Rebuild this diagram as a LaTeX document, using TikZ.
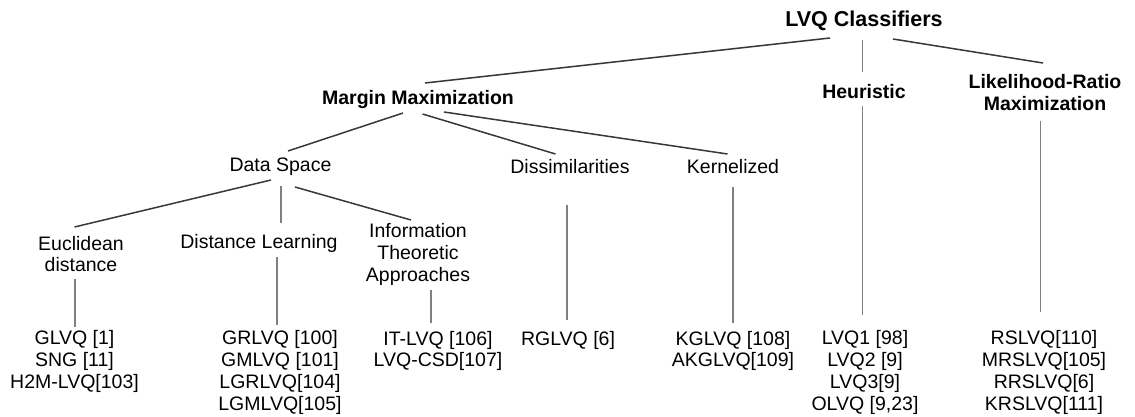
\documentclass[tikz,border=0pt]{standalone}
\usepackage{fontspec}
\setmainfont{Liberation Sans}
\begin{document}
\begin{tikzpicture}[x=1pt,y=-1pt,
  lbl/.style={font=\fontsize{19.5}{21.7}\selectfont, align=center, inner sep=0pt, anchor=center},
  cat/.style={lbl, font=\fontsize{19.5}{21.7}\selectfont\bfseries},
  rootlbl/.style={lbl, font=\fontsize{21.5}{24}\selectfont\bfseries},
  sedge/.style={draw=black!78, line width=1.5pt},
  vedge/.style={draw=black!50, line width=1.8pt}]
\useasboundingbox (0,0) rectangle (1135,417);
% nodes
\node[rootlbl] (root) at (864,21) {LVQ Classifiers};
\node[cat] (mm) at (418,100) {Margin Maximization};
\node[cat] (heur) at (864,92) {Heuristic};
\node[cat] (lr) at (1045,92.5) {Likelihood-Ratio\\Maximization};
\node[lbl] (ds) at (280.5,167) {Data Space};
\node[lbl] (dis) at (570,167) {Dissimilarities};
\node[lbl] (ker) at (733,167) {Kernelized};
\node[lbl] (euc) at (81,254) {Euclidean\\distance};
\node[lbl] (dl) at (259,243) {Distance Learning};
\node[lbl] (it) at (418,254.5) {Information\\Theoretic\\Approaches};
\node[lbl] (glvq) at (74.5,361.5) {GLVQ [1]\\SNG [11]\\H2M-LVQ[103]};
\node[lbl] (grlvq) at (280,372.5) {GRLVQ [100]\\GMLVQ [101]\\LGRLVQ[104]\\LGMLVQ[105]};
\node[lbl] (itlvq) at (438,351) {IT-LVQ [106]\\LVQ-CSD[107]};
\node[lbl] (rglvq) at (568,340) {RGLVQ [6]};
\node[lbl] (kglvq) at (733,351) {KGLVQ [108]\\AKGLVQ[109]};
\node[lbl] (lvq1) at (865,372.5) {LVQ1 [98]\\LVQ2 [9]\\LVQ3[9]\\OLVQ [9,23]};
\node[lbl] (rslvq) at (1044,372.5) {RSLVQ[110]\\MRSLVQ[105]\\RRSLVQ[6]\\KRSLVQ[111]};
% connectors
\draw[sedge] ([shift={(-34,17)}]root.center) -- ([shift={(7,-17)}]mm.center);
\draw[vedge] ([shift={(-1.5,19)}]root.center) -- ([shift={(-1.5,-20)}]heur.center);
\draw[sedge] ([shift={(29,18)}]root.center) -- ([shift={(-2,-29.5)}]lr.center);
\draw[vedge] ([shift={(-1.5,14)}]heur.center) -- ([shift={(-2.5,-57.5)}]lvq1.center);
\draw[vedge] ([shift={(-4.5,28.5)}]lr.center) -- ([shift={(-3.5,-60.5)}]rslvq.center);
\draw[sedge] ([shift={(-15,13)}]mm.center) -- ([shift={(7.5,-16)}]ds.center);
\draw[sedge] ([shift={(4.5,14)}]mm.center) -- ([shift={(-14.5,-13)}]dis.center);
\draw[sedge] ([shift={(26,12)}]mm.center) -- ([shift={(-5.5,-13)}]ker.center);
\draw[sedge] ([shift={(-9.5,13)}]ds.center) -- ([shift={(-6.5,-27)}]euc.center);
\draw[vedge] ([shift={(0.2,19)}]ds.center) -- ([shift={(21.7,-20)}]dl.center);
\draw[sedge] ([shift={(14.5,20)}]ds.center) -- ([shift={(-7,-34.5)}]it.center);
\draw[vedge] ([shift={(-5.7,25)}]euc.center) -- ([shift={(0.8,-34.5)}]glvq.center);
\draw[vedge] ([shift={(18,14)}]dl.center) -- ([shift={(-3,-47.5)}]grlvq.center);
\draw[vedge] ([shift={(13,35.5)}]it.center) -- ([shift={(-7,-28)}]itlvq.center);
\draw[vedge] ([shift={(-3,38)}]dis.center) -- ([shift={(-1,-20)}]rglvq.center);
\draw[vedge] ([shift={(0,20)}]ker.center) -- ([shift={(0,-28)}]kglvq.center);
\end{tikzpicture}
\end{document}
